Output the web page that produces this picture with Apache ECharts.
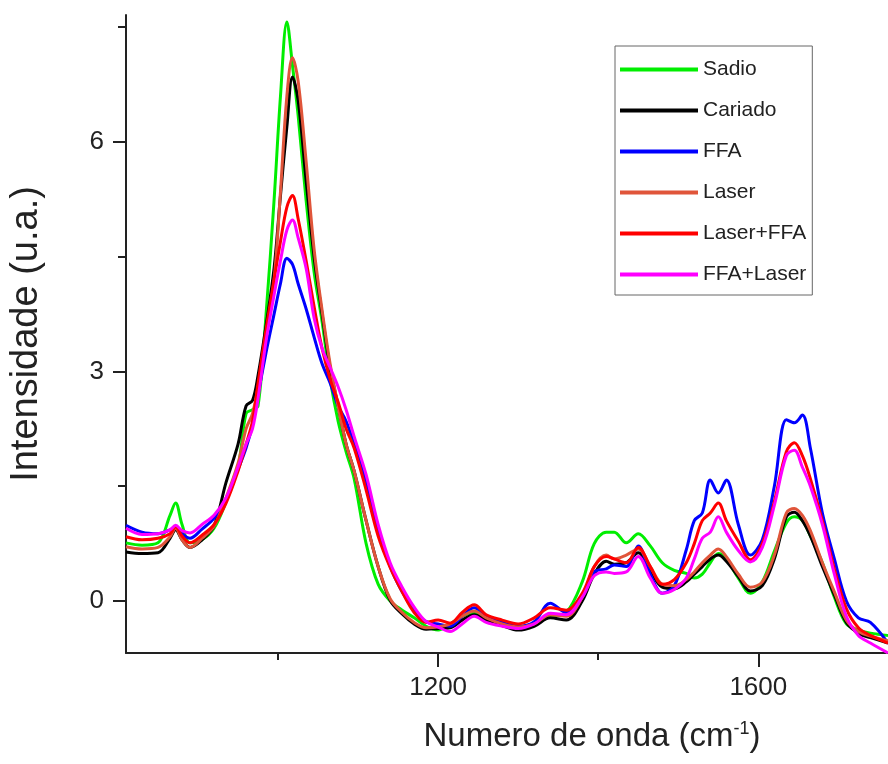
<!DOCTYPE html>
<html>
<head>
<meta charset="utf-8">
<script src="https://cdn.jsdelivr.net/npm/echarts@6/dist/echarts.min.js"></script>
<style>html,body{margin:0;padding:0;background:#fff;}#c{width:888px;height:764px;}</style>
</head>
<body>
<div id="c"></div>
<script>
// Wavenumbers (cm-1)
const wavenumbers = [810,830,850,865,872,880,890,905,920,935,950,960,968,975,985,995,1003,1011,1018,1025,1035,1045,1055,1065,1075,1085,1095,1110,1125,1140,1155,1170,1185,1200,1215,1230,1245,1260,1280,1300,1320,1340,1360,1380,1395,1410,1420,1435,1450,1465,1480,1495,1510,1520,1530,1540,1550,1560,1575,1590,1605,1620,1635,1645,1655,1665,1680,1695,1710,1725,1740,1762];

const sadio = [0.76,0.73,0.76,1.12,1.28,1.0,0.76,0.8,0.95,1.3,1.75,2.45,2.5,2.55,3.75,5.24,6.6,7.57,7.0,6.35,5.24,4.3,3.65,2.9,2.35,1.95,1.6,0.75,0.22,0.0,-0.12,-0.22,-0.33,-0.38,-0.3,-0.2,-0.15,-0.22,-0.3,-0.35,-0.3,-0.2,-0.15,0.25,0.75,0.9,0.9,0.76,0.88,0.72,0.5,0.4,0.36,0.3,0.35,0.5,0.62,0.55,0.3,0.1,0.25,0.65,1.02,1.1,1.05,0.85,0.5,0.05,-0.3,-0.38,-0.42,-0.45];
const cariado = [0.64,0.62,0.63,0.82,0.93,0.8,0.7,0.8,0.98,1.55,2.05,2.55,2.62,2.95,3.6,4.35,5.3,6.2,6.85,6.55,5.5,4.5,3.75,3.05,2.55,2.05,1.7,1.05,0.45,0.01,-0.17,-0.3,-0.37,-0.36,-0.35,-0.25,-0.18,-0.25,-0.32,-0.38,-0.33,-0.22,-0.25,0.0,0.35,0.52,0.48,0.5,0.63,0.4,0.18,0.16,0.25,0.35,0.45,0.55,0.6,0.52,0.32,0.13,0.2,0.55,1.1,1.16,1.05,0.85,0.45,0.08,-0.28,-0.42,-0.48,-0.55];
const ffa = [0.99,0.9,0.88,0.93,0.97,0.88,0.82,0.94,1.08,1.33,1.72,2.0,2.3,2.7,3.25,3.75,4.15,4.48,4.4,4.15,3.82,3.45,3.1,2.85,2.55,2.35,2.05,1.55,0.95,0.45,0.12,-0.12,-0.27,-0.3,-0.33,-0.2,-0.09,-0.2,-0.28,-0.33,-0.27,-0.03,-0.15,0.05,0.38,0.42,0.47,0.45,0.72,0.35,0.1,0.2,0.67,1.05,1.15,1.58,1.41,1.58,1.0,0.6,0.8,1.5,2.37,2.33,2.43,2.0,1.15,0.55,0.0,-0.22,-0.28,-0.55];
const laser = [0.71,0.68,0.7,0.84,0.95,0.8,0.7,0.82,0.98,1.35,1.8,2.25,2.45,2.8,3.5,4.2,5.35,6.6,7.1,6.8,5.75,4.6,3.8,3.1,2.55,2.05,1.7,1.05,0.45,0.03,-0.15,-0.28,-0.35,-0.34,-0.3,-0.2,-0.13,-0.22,-0.3,-0.34,-0.3,-0.18,-0.2,0.05,0.45,0.6,0.55,0.6,0.68,0.45,0.22,0.2,0.28,0.38,0.5,0.6,0.68,0.58,0.35,0.18,0.25,0.6,1.15,1.21,1.12,0.92,0.5,0.12,-0.25,-0.4,-0.46,-0.52];
const laserFfa = [0.84,0.8,0.82,0.88,0.97,0.85,0.76,0.86,1.0,1.28,1.7,2.05,2.35,2.85,3.55,4.2,4.7,5.15,5.3,5.0,4.45,3.85,3.3,2.9,2.6,2.25,2.0,1.45,0.85,0.44,0.12,-0.15,-0.28,-0.25,-0.29,-0.15,-0.05,-0.18,-0.25,-0.3,-0.22,-0.09,-0.12,0.1,0.45,0.58,0.55,0.5,0.7,0.45,0.22,0.28,0.5,0.75,1.05,1.15,1.28,1.05,0.78,0.54,0.75,1.3,1.95,2.07,1.9,1.6,1.05,0.42,-0.1,-0.35,-0.45,-0.55];
const ffaLaser = [0.95,0.87,0.88,0.93,0.99,0.92,0.89,1.0,1.12,1.35,1.75,2.05,2.25,2.65,3.4,4.0,4.45,4.85,4.98,4.75,4.35,3.7,3.3,3.05,2.8,2.5,2.15,1.65,1.0,0.5,0.18,-0.08,-0.27,-0.34,-0.4,-0.3,-0.2,-0.28,-0.33,-0.36,-0.3,-0.16,-0.18,0.05,0.33,0.38,0.36,0.38,0.58,0.3,0.1,0.15,0.3,0.55,0.82,0.9,1.1,0.9,0.66,0.51,0.7,1.25,1.9,1.97,1.75,1.5,1.0,0.35,-0.2,-0.45,-0.55,-0.68];

const seriesNames = ['Sadio','Cariado','FFA','Laser','Laser+FFA','FFA+Laser'];
const seriesValues = [sadio, cariado, ffa, laser, laserFfa, ffaLaser];
const seriesColors = ['#00ee00','#000000','#0000ff','#e0553a','#ff0000','#ff00ff'];

const xMajorTicks = [1200, 1600];
const xMinorTicks = [1000, 1400];
const yMajorTicks = [0, 3, 6];
const yMinorTicks = [1.5, 4.5, 7.5];

const X_MIN = 810, X_MAX = 1762, Y_MIN = -0.68, Y_MAX = 7.66;
const FONT = 'Liberation Sans, Arial, sans-serif';

const chart = echarts.init(document.getElementById('c'), null, {renderer: 'canvas'});

const axisLineStyle = {color: '#222', width: 2};
const plain = v => String(v);

chart.setOption({
  animation: false,
  backgroundColor: '#fff',
  grid: {left: 126, right: 0, top: 15, bottom: 111, containLabel: false},
  legend: {
    orient: 'vertical',
    left: 615, top: 46,
    padding: [13, 6, 10, 5],
    itemGap: 20,
    itemWidth: 78, itemHeight: 4,
    icon: 'rect',
    borderColor: '#666', borderWidth: 1,
    textStyle: {fontFamily: FONT, fontSize: 21, color: '#222', lineHeight: 20},
    data: seriesNames
  },
  xAxis: [{
    type: 'value', min: X_MIN, max: X_MAX,
    name: 'Numero de onda (cm{sup|-1})',
    nameLocation: 'middle', nameGap: 67,
    nameTextStyle: {fontFamily: FONT, fontSize: 33, color: '#222', padding: [0, 0, 0, 170],
      rich: {sup: {fontFamily: FONT, fontSize: 18, color: '#222', verticalAlign: 'top', padding: [0,0,14,0]}}},
    axisLine: {show: true, onZero: false, lineStyle: axisLineStyle},
    axisTick: {show: true, inside: false, length: 14, customValues: xMajorTicks, lineStyle: axisLineStyle},
    axisLabel: {show: true, customValues: xMajorTicks, formatter: plain, margin: 22, fontFamily: FONT, fontSize: 26, color: '#222'},
    splitLine: {show: false}
  }, {
    type: 'value', min: X_MIN, max: X_MAX, position: 'bottom',
    axisLine: {show: false, onZero: false},
    axisTick: {show: true, inside: false, length: 7, customValues: xMinorTicks, lineStyle: axisLineStyle},
    axisLabel: {show: false},
    splitLine: {show: false}
  }],
  yAxis: [{
    type: 'value', min: Y_MIN, max: Y_MAX,
    name: 'Intensidade (u.a.)',
    nameLocation: 'middle', nameGap: 80,
    nameTextStyle: {fontFamily: FONT, fontSize: 38, color: '#222'},
    axisLine: {show: true, onZero: false, lineStyle: axisLineStyle},
    axisTick: {show: true, inside: false, length: 13, customValues: yMajorTicks, lineStyle: axisLineStyle},
    axisLabel: {show: true, customValues: yMajorTicks, formatter: plain, margin: 22, fontFamily: FONT, fontSize: 26, color: '#222'},
    splitLine: {show: false}
  }, {
    type: 'value', min: Y_MIN, max: Y_MAX, position: 'left',
    axisLine: {show: false, onZero: false},
    axisTick: {show: true, inside: false, length: 8, customValues: yMinorTicks, lineStyle: axisLineStyle},
    axisLabel: {show: false},
    splitLine: {show: false}
  }],
  series: seriesNames.map((name, k) => ({
    name: name,
    type: 'line',
    xAxisIndex: 0, yAxisIndex: 0,
    showSymbol: false,
    smooth: 0.35,
    lineStyle: {color: seriesColors[k], width: 3},
    itemStyle: {color: seriesColors[k]},
    data: wavenumbers.map((w, i) => [w, seriesValues[k][i]])
  }))
});
</script>
</body>
</html>
